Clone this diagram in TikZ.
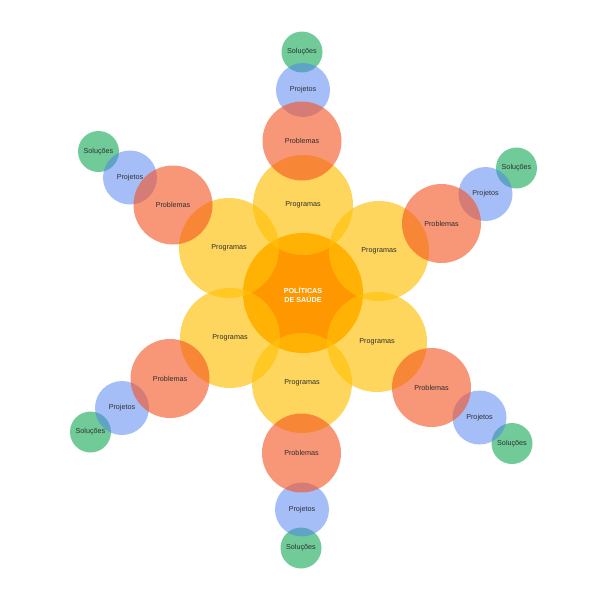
\documentclass[tikz,border=0pt]{standalone}
\usepackage{fontspec}
\setmainfont{Liberation Sans}
\definecolor{progc}{HTML}{FFC107}
\definecolor{centc}{HTML}{FF9800}
\definecolor{probc}{HTML}{F4511E}
\definecolor{projc}{HTML}{4F7EF2}
\definecolor{soluc}{HTML}{2FB36A}
\definecolor{labc}{HTML}{2E2E2E}
\begin{document}
\begin{tikzpicture}[x=1pt,y=-1pt,
  blob/.style={circle,inner sep=0pt,outer sep=0pt,text=labc,font=\fontsize{7.2}{8}\selectfont,text opacity=1},
  centre/.style={blob,fill=centc,minimum size=120pt},
  prog/.style={blob,fill=progc,fill opacity=0.65,minimum size=100pt},
  prob/.style={blob,fill=probc,fill opacity=0.6,minimum size=79pt},
  proj/.style={blob,fill=projc,fill opacity=0.5,minimum size=54pt},
  solu/.style={blob,fill=soluc,fill opacity=0.68,minimum size=41pt}]
\fill[white] (0,0) rectangle (600,600);
\useasboundingbox (0,0) rectangle (600,600);
\node[centre] (c) at (303,293) {};
% Programas
\node[prog] (p1) at (303,205) {Programas};
\node[prog] (p2) at (379,251) {Programas};
\node[prog] (p3) at (377,342) {Programas};
\node[prog] (p4) at (302,383) {Programas};
\node[prog] (p5) at (230,338) {Programas};
\node[prog] (p6) at (229,248) {Programas};
\node[font=\bfseries\fontsize{7.2}{8.8}\selectfont,text=white,align=center,inner sep=0pt] (ct) at (303,295) {POLÍTICAS\\DE SAÚDE};
% Soluções
\node[solu] (s1) at (302,52) {Soluções};
\node[solu] (s2) at (516.5,168) {Soluções};
\node[solu] (s3) at (512,443.5) {Soluções};
\node[solu] (s4) at (301,548) {Soluções};
\node[solu] (s5) at (90.5,432) {Soluções};
\node[solu] (s6) at (98.5,151.5) {Soluções};
% Projetos
\node[proj] (j1) at (303,90) {Projetos};
\node[proj] (j2) at (485.5,194) {Projetos};
\node[proj] (j3) at (479.5,417.5) {Projetos};
\node[proj] (j4) at (302,509.5) {Projetos};
\node[proj] (j5) at (122,408) {Projetos};
\node[proj] (j6) at (130,177.5) {Projetos};
% Problemas
\node[prob] (r1) at (302,141) {Problemas};
\node[prob] (r2) at (441.5,223.5) {Problemas};
\node[prob] (r3) at (431.5,387.5) {Problemas};
\node[prob] (r4) at (301.5,453) {Problemas};
\node[prob] (r5) at (170,378.5) {Problemas};
\node[prob] (r6) at (173,205) {Problemas};
\end{tikzpicture}
\end{document}
